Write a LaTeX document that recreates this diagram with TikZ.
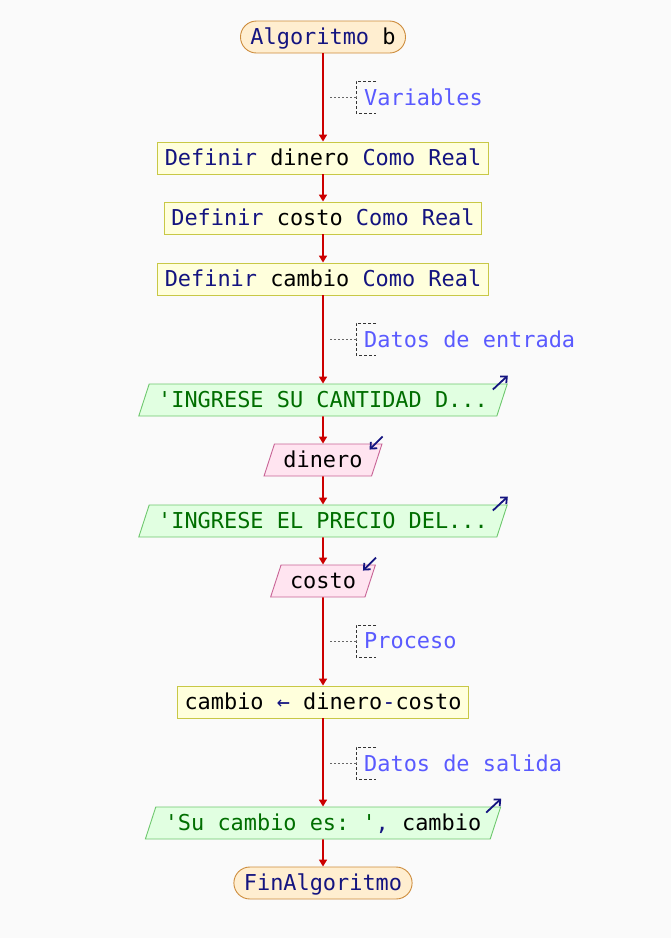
\documentclass[tikz,border=0pt]{standalone}
\usepackage{fontspec}
\setmonofont{DejaVu Sans Mono}
\usetikzlibrary{positioning,arrows.meta}
\usetikzlibrary{shapes.geometric}
\definecolor{fondo}{RGB}{250,250,250}
\definecolor{rojo}{RGB}{204,0,0}
\definecolor{azul}{RGB}{20,20,128}
\definecolor{coment}{RGB}{90,90,255}
\definecolor{verde}{RGB}{0,110,0}
\definecolor{procfondo}{RGB}{255,255,220}
\definecolor{procborde}{RGB}{200,200,70}
\definecolor{esfondo}{RGB}{225,255,225}
\definecolor{esborde}{RGB}{110,200,110}
\definecolor{lefondo}{RGB}{255,228,240}
\definecolor{leborde}{RGB}{200,100,150}
\definecolor{inifondo}{RGB}{255,238,208}
\definecolor{iniborde}{RGB}{205,140,60}
\newcommand{\kw}[1]{\textcolor{azul}{#1}}
\tikzstyle{txt} = [font=\ttfamily\fontsize{21.9}{24}\selectfont, text height=17pt, text depth=3pt, inner ysep=6pt, line width=0.9pt]
\tikzstyle{flecha} = [draw=rojo, line width=1.6pt, -{Triangle[length=7pt,width=8pt]}]
\tikzstyle{inicio} = [txt, draw=iniborde, fill=inifondo, rounded corners=16pt, inner xsep=10pt]
\tikzstyle{proceso} = [txt, draw=procborde, fill=procfondo, inner xsep=7pt]
\tikzstyle{para} = [txt, trapezium, trapezium left angle=72, trapezium right angle=108, inner xsep=9pt]
\tikzstyle{escribe} = [para, draw=esborde, fill=esfondo, text=verde]
\tikzstyle{lee} = [para, draw=leborde, fill=lefondo]
\tikzstyle{flechita} = [draw=azul, line width=1.8pt, -{Straight Barb[length=5pt,width=9pt]}]
\tikzstyle{comentario} = [font=\ttfamily\fontsize{21.9}{24}\selectfont, text=coment, anchor=west, inner sep=0pt]

\begin{document}
\begin{tikzpicture}[x=1pt,y=-1pt]
    \fill[fondo] (0,0) rectangle (671,938);
    \useasboundingbox (0,0) rectangle (671,938);
    % Nodes of the flowchart
    \node[inicio] (st) at (323,37) {\kw{Algoritmo} b};
    \node[proceso] (d1) at (323,158) {\kw{Definir} dinero \kw{Como Real}};
    \node[proceso] (d2) at (323,218) {\kw{Definir} costo \kw{Como Real}};
    \node[proceso] (d3) at (323,279) {\kw{Definir} cambio \kw{Como Real}};
    \node[escribe] (e1) at (323,400) {'INGRESE SU CANTIDAD D...};
    \node[lee] (r1) at (323,460) {dinero};
    \node[escribe] (e2) at (323,521) {'INGRESE EL PRECIO DEL...};
    \node[lee] (r2) at (323,581) {costo};
    \node[proceso] (p1) at (323,702) {cambio \kw{←} dinero\kw{-}costo};
    \node[escribe] (o1) at (323,823) {'Su cambio es: '\kw{,} \textcolor{black}{cambio}};
    \node[inicio] (fin) at (323,883) {\kw{FinAlgoritmo}};
    % Connectors
    \foreach \a/\b in {st/d1,d1/d2,d2/d3,d3/e1,e1/r1,r1/e2,e2/r2,r2/p1,p1/o1,o1/fin}
        \draw[flecha] (\a) -- (\b);
    % In/out marks
    \foreach \n in {e1,e2,o1}
        \draw[flechita] ([shift={(-15pt,-6pt)}]\n.top right corner) -- ++(15pt,14pt);
    \foreach \n in {r1,r2}
        \draw[flechita] ([shift={(0pt,7pt)}]\n.top right corner) -- ++(-13pt,-13pt);
    % Comments
    \foreach \nm/\yy/\txt in {cv/97/Variables, ce/339/Datos de entrada, cp/641/Proceso, cs/763/Datos de salida} {
        \node[comentario] (\nm) at (364,\yy) {\txt};
        \coordinate (\nm l) at (330,\yy);
        \draw[dash pattern=on 2pt off 2pt, gray!80!black, line width=0.7pt] (\nm l) -- ([xshift=-8pt]\nm.west);
        \draw[dash pattern=on 3pt off 2pt, black!80, line width=0.7pt] ([shift={(12pt,16pt)}]\nm.west) -| ([xshift=-8pt]\nm.west)
            |- ([shift={(12pt,-16pt)}]\nm.west);
    }
\end{tikzpicture}
\end{document}
